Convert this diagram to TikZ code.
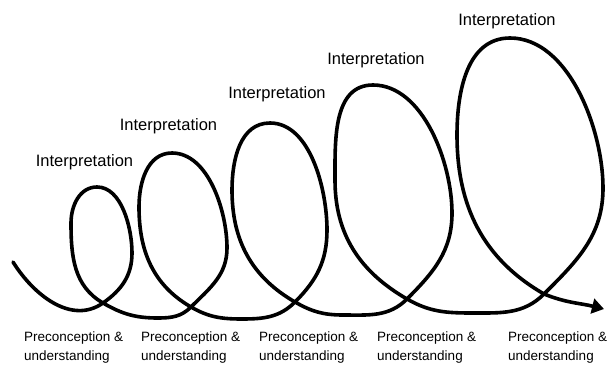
\documentclass[tikz,border=0pt]{standalone}
\usepackage{fontspec}
\setmainfont{Liberation Sans}
\usepackage{tikz}
\usetikzlibrary{arrows.meta}
\tikzset{Interp/.style={font=\fontsize{16.5}{20}\selectfont,inner sep=0pt}}
\tikzset{Pre/.style={font=\fontsize{13.5}{19}\selectfont,align=left,anchor=west,inner sep=0pt}}
\tikzset{Coil/.style={line width=3.6pt,line cap=round,-{Triangle[length=12pt,width=15pt]}}}
\tikzset{Up/.style={out=90,in=0,looseness=.85}}

\begin{document}
\begin{tikzpicture}[x=1pt,y=1pt]
    \useasboundingbox (0,0) rectangle (607,373);
    % the growing coil
    \draw[Coil] (13,111) to[out=-58,in=-145] (103,70)
      to[out=35,in=-90] (132,120) to[Up] (97,186)
      to[out=180,in=90] (71,150) to[out=-90,in=150] (103,70)
      to[out=-30,in=180] (158,55) to[out=0,in=-135] (191,66)
      to[out=45,in=-90] (227,125) to[Up] (172,220)
      to[out=180,in=90] (139,166) to[out=-90,in=150] (191,66)
      to[out=-30,in=180] (242,54) to[out=0,in=-135] (295,71)
      to[out=45,in=-90] (327,143) to[Up] (270,250)
      to[out=180,in=90] (232,183) to[out=-90,in=150] (295,71)
      to[out=-30,in=180] (343,58) to[out=0,in=-135] (407,74)
      to[out=45,in=-90] (452,160) to[Up] (373,288)
      to[out=180,in=90] (335,193) to[out=-90,in=150] (407,74)
      to[out=-30,in=180] (473,60) to[out=0,in=-135] (544,79)
      to[out=45,in=-90] (603,185) to[Up] (510,335)
      to[out=180,in=90] (457,238) to[out=-90,in=150] (544,79)
      to[out=-22,in=166] (604,64);
    \node[Interp] (interp1) at (84.5,211) {Interpretation};
    \node[Interp] (interp2) at (168.5,247) {Interpretation};
    \node[Interp] (interp3) at (277,279) {Interpretation};
    \node[Interp] (interp4) at (376,313) {Interpretation};
    \node[Interp] (interp5) at (507,352) {Interpretation};
    \node[Pre] (pre1) at (24,25.5) {Preconception \&\\understanding};
    \node[Pre] (pre2) at (141,25.5) {Preconception \&\\understanding};
    \node[Pre] (pre3) at (259,25.5) {Preconception \&\\understanding};
    \node[Pre] (pre4) at (377,25.5) {Preconception \&\\understanding};
    \node[Pre] (pre5) at (508,25.5) {Preconception \&\\understanding};
\end{tikzpicture}
\end{document}
